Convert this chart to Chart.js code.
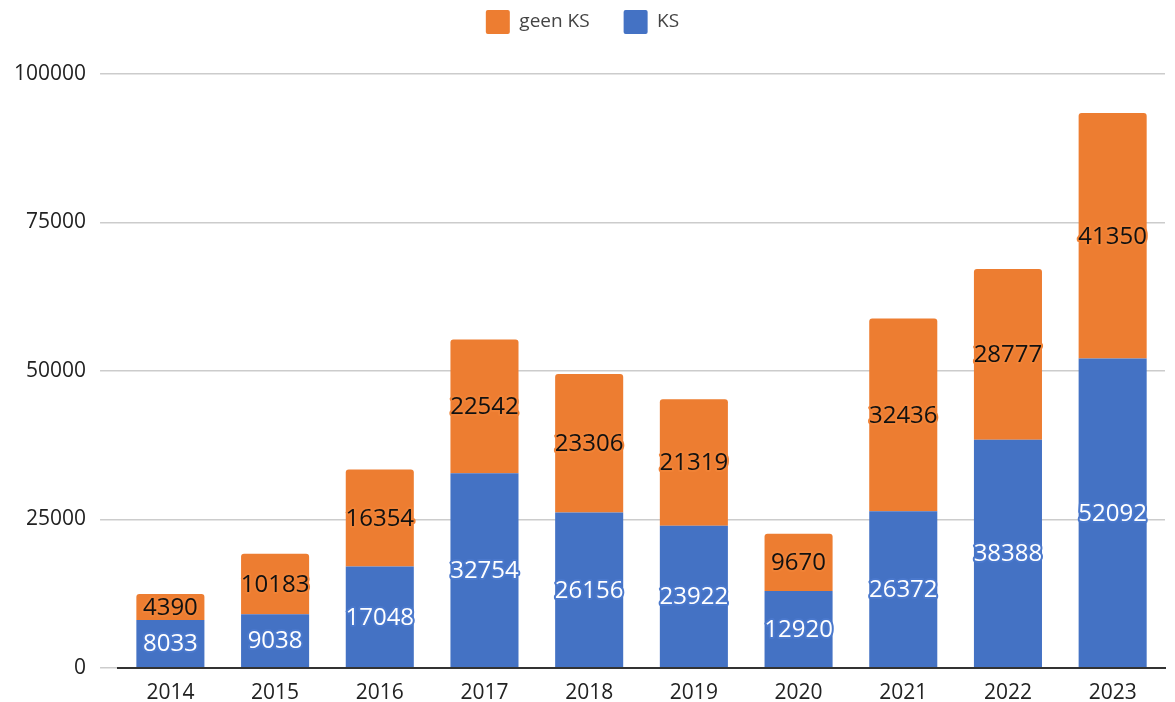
<!DOCTYPE html>
<html>
<head>
<meta charset="utf-8">
<script src="https://cdn.jsdelivr.net/npm/chart.js@4"></script>
<style>
html,body{margin:0;padding:0;background:#fff;}
#wrap{width:1175px;height:702px;position:relative;}
</style>
</head>
<body>
<div id="wrap"><canvas id="c" width="1175" height="702"></canvas></div>
<script>
const categories = ['2014','2015','2016','2017','2018','2019','2020','2021','2022','2023'];
const ksValues = [8033, 9038, 17048, 32754, 26156, 23922, 12920, 26372, 38388, 52092];
const geenKsValues = [4390, 10183, 16354, 22542, 23306, 21319, 9670, 32436, 28777, 41350];
const yTicks = [0, 25000, 50000, 75000, 100000];

const BLUE = '#4472C4';
const ORANGE = '#ED7D31';
const FONT = '"Open Sans", "Noto Sans", sans-serif';

const legendMargin = {
  id: 'legendMargin',
  beforeInit(chart) {
    const origFit = chart.legend.fit;
    chart.legend.fit = function () {
      origFit.bind(chart.legend)();
      this.height += 30;
    };
  }
};

const labelPlugin = {
  id: 'segLabels',
  afterDatasetsDraw(chart) {
    const ctx = chart.ctx;
    chart.data.datasets.forEach((ds, di) => {
      const meta = chart.getDatasetMeta(di);
      meta.data.forEach((bar, i) => {
        const v = ds.data[i];
        const cy = (bar.y + bar.base) / 2;
        ctx.save();
        ctx.font = '24px ' + FONT;
        ctx.textAlign = 'center';
        ctx.textBaseline = 'middle';
        ctx.lineJoin = 'round';
        ctx.lineWidth = 4;
        ctx.strokeStyle = ds.haloColor;
        ctx.strokeText(String(v), bar.x, cy + 1);
        ctx.fillStyle = ds.labelColor;
        ctx.fillText(String(v), bar.x, cy + 1);
        ctx.restore();
      });
    });
  }
};

new Chart(document.getElementById('c'), {
  type: 'bar',
  data: {
    labels: categories,
    datasets: [
      { label: 'KS', data: ksValues, backgroundColor: BLUE, labelColor: '#ffffff', haloColor: '#4a78cc', borderRadius: 0 },
      { label: 'geen KS', data: geenKsValues, backgroundColor: ORANGE, labelColor: '#111111', haloColor: '#f08236',
        borderRadius: {topLeft: 3, topRight: 3, bottomLeft: 0, bottomRight: 0}, borderSkipped: false }
    ]
  },
  options: {
    responsive: false,
    animation: false,
    layout: { padding: { left: 0, right: 10, top: -24, bottom: -17 } },
    datasets: { bar: { barPercentage: 0.65, categoryPercentage: 1.0 } },
    plugins: {
      legend: {
        position: 'top',
        reverse: true,
        labels: {
          boxWidth: 24, boxHeight: 24, padding: 34,
          color: '#444',
          font: { size: 19, family: FONT },
          useBorderRadius: true, borderRadius: 2
        }
      },
      tooltip: { enabled: false }
    },
    scales: {
      x: {
        stacked: true,
        grid: { display: false, drawTicks: false },
        border: { display: true, color: '#333', width: 2 },
        ticks: { color: '#222', padding: 13, font: { size: 21, family: FONT } }
      },
      y: {
        stacked: true,
        min: 0, max: 100000,
        afterBuildTicks: (axis) => { axis.ticks = yTicks.map(v => ({ value: v })); },
        grid: { color: '#cccccc', lineWidth: 1.5, tickLength: 18, tickColor: '#cccccc' },
        border: { display: false },
        ticks: { color: '#222', padding: 14, font: { size: 21, family: FONT }, callback: (v) => String(v) }
      }
    }
  },
  plugins: [labelPlugin, legendMargin]
});
</script>
</body>
</html>
